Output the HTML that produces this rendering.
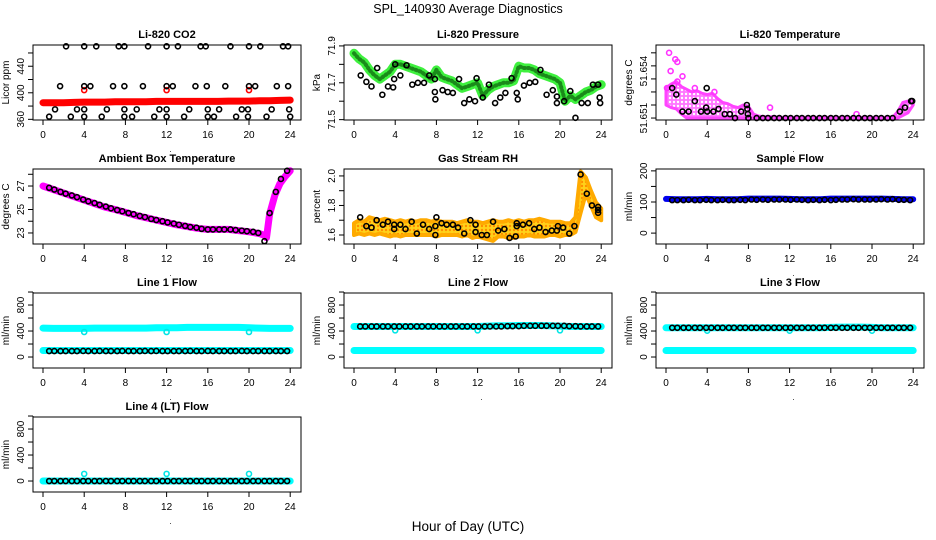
<!DOCTYPE html>
<html><head><meta charset="utf-8"><title>SPL_140930 Average Diagnostics</title>
<style>
html,body{margin:0;padding:0;background:#fff;}
svg{display:block;font-family:"Liberation Sans",Arial,sans-serif;}
</style></head>
<body>
<svg id="chart" width="936" height="540" viewBox="0 0 936 540">
<defs>
<pattern id="rhpat" width="4" height="4" patternUnits="userSpaceOnUse"><rect width="4" height="4" fill="#ffd21a"/><circle cx="2" cy="2" r="1.2" fill="#ff8c00"/></pattern>
<pattern id="magpat" width="4" height="4" patternUnits="userSpaceOnUse"><rect width="4" height="4" fill="#ff77ff"/><circle cx="2" cy="2" r="1.2" fill="#ffffff"/></pattern>
</defs>
<text x="468" y="13" text-anchor="middle" font-size="12.5">SPL_140930  Average Diagnostics</text>
<text x="468" y="531" text-anchor="middle" font-size="13.5">Hour of Day (UTC)</text>
</svg>
<script>
// ---- shared ----
const xTicks = [0,4,8,12,16,20,24];
const blackTimes = [0.6,1.1,1.7,2.2,2.8,3.3,3.9,4.4,5.0,5.5,6.1,6.6,7.2,7.7,8.3,8.8,9.4,9.9,10.5,11.0,11.6,12.1,12.7,13.2,13.8,14.3,14.9,15.4,16.0,16.5,17.1,17.6,18.2,18.7,19.3,19.8,20.4,20.9,21.5,22.0,22.6,23.1,23.7];
const hourTimes = [0,1,2,3,4,5,6,7,8,9,10,11,12,13,14,15,16,17,18,19,20,21,22,23,24];
const halfTimes = [0,0.5,1,1.5,2,2.5,3,3.5,4,4.5,5,5.5,6,6.5,7,7.5,8,8.5,9,9.5,10,10.5,11,11.5,12,12.5,13,13.5,14,14.5,15,15.5,16,16.5,17,17.5,18,18.5,19,19.5,20,20.5,21,21.5,22,22.5,23,23.5,24];

// ---- CO2 ----
const co2Red = [385,385,385,385.5,386,386,386,386.5,386.5,386.5,386.5,387,387,387,387,387,387,387,387.5,387.5,387.5,388,388,388.5,389];
const co2RedCircT = [4,12,20];
const co2RedCircV = [404,404,404];
const co2BlkT = [2.24,4.0,5.17,7.35,7.9,10.2,12.0,13.1,15.3,15.8,18.2,20.0,21.1,23.3,23.8, 1.66,4.0,4.6,6.8,7.9,9.7,12.0,12.6,14.8,15.9,17.7,20.0,20.6,22.7,23.8, 1.17,3.3,4.0,6.2,7.9,9.1,11.3,12.0,14.2,16.0,17.1,19.3,19.9,22.2,23.9, 0.6,2.7,4.0,5.7,7.9,8.65,10.8,12.0,13.7,16.0,16.6,18.75,19.9,21.7,24.0];
const co2BlkV = [470,470,470,470,470,470,470,470,470,470,470,470,470,470,470, 410,410,410,410,410,410,410,410,410,410,410,410,410,410,410, 375,375,375,375,375,375,375,375,375,375,375,375,375,375,375, 364,364,364,364,364,364,364,364,364,364,364,364,364,364,364];

// ---- Pressure ----
const presGreen = [71.86,71.83,71.81,71.77,71.74,71.72,71.74,71.76,71.80,71.80,71.79,71.78,71.77,71.76,71.74,71.72,71.77,71.73,71.72,71.71,71.69,71.67,71.68,71.69,71.70,71.63,71.66,71.68,71.69,71.70,71.70,71.71,71.79,71.78,71.78,71.77,71.75,71.74,71.73,71.72,71.70,71.60,71.63,71.61,71.63,71.65,71.66,71.68,71.69];
const presBlkT = [0.65,1.2,1.7,2.25,2.75,3.3,3.8,3.9,4.0,4.5,5.1,5.66,6.2,6.8,7.3,7.85,7.85,7.9,8.6,9.1,9.6,10.2,10.7,11.2,11.75,11.9,12.5,13.1,13.7,14.2,14.7,15.3,15.8,15.9,16.5,17.05,17.6,18.1,18.7,19.3,19.7,19.7,20.4,21.0,21.5,22.1,22.7,23.2,23.7,23.85,23.9];
const presBlkV = [71.74,71.705,71.68,71.78,71.635,71.68,71.675,71.72,71.80,71.74,71.795,71.69,71.70,71.70,71.74,71.72,71.65,71.61,71.66,71.65,71.645,71.72,71.59,71.61,71.60,71.725,71.62,71.69,71.59,71.62,71.645,71.725,71.645,71.61,71.685,71.70,71.705,71.77,71.635,71.66,71.625,71.59,71.60,71.655,71.51,71.59,71.59,71.69,71.69,71.62,71.59];

// ---- Li-820 Temperature (offset units above 51.651) ----
const tempTickVals = [0,1,2,3,4,5];
const tempMagHi = [2.3,2.6,2.8,2.4,2.2,2.0,2.1,1.9,1.8,1.9,1.5,1.2,1.1,0.9,0.8,1.0,0.9,0.3,0.15,0.1,0.1,0.1,0.05,0.05,0.05,0.05,0.05,0.05,0.05,0.05,0.05,0.05,0.05,0.05,0.05,0.05,0.05,0.05,0.05,0.05,0.05,0.05,0.05,0.05,0.05,0.5,1.2,1.3,1.3];
const tempMagLo = [1.0,0.8,0.7,0.3,0,0,0,0,0,0,0,0,0,0,0,0,0,0,0,0,0,0,0,0,0,0,0,0,0,0,0,0,0,0,0,0,0,0,0,0,0,0,0,0,0,0,0.2,0.4,1.0];
const tempSpikeT = [0.3,0.9,1.1,0.45,1.6,1.1,0.1,10.1,18.5,0.8,2.8,4.7];
const tempSpikeV = [5.0,4.5,4.3,3.6,3.2,2.8,2.3,0.8,0.3,2.5,2.3,2.0];
const tempBlkT = [0.6,1.0,1.6,2.2,2.8,3.4,3.9,3.95,4.0,4.6,5.1,5.7,6.2,6.7,7.3,7.85,7.9,7.95,8.0,8.8,9.4,9.9,10.5,11.0,11.6,12.1,12.7,13.2,13.8,14.3,14.9,15.4,16.0,16.5,17.1,17.6,18.2,18.7,19.3,19.8,20.4,20.9,21.5,22.0,22.7,23.2,23.8,23.9];
const tempBlkV = [2.3,1.8,0.5,0.5,1.3,0.5,0.8,2.3,0.5,0.5,0.7,0.3,0.3,0,0.5,1.0,0.7,0.3,0,0,0,0,0,0,0,0,0,0,0,0,0,0,0,0,0,0,0,0,0,0,0,0,0,0,0.5,0.8,1.3,1.3];

// ---- Ambient Box Temperature ----
const ambTimes = [0,1,2,3,4,5,6,7,8,9,10,11,12,13,14,15,16,17,18,19,20,21,21.5,21.7,22,22.5,23,23.5,24];
const ambVals = [27.0,26.7,26.4,26.1,25.8,25.5,25.2,25.0,24.75,24.5,24.3,24.1,23.9,23.7,23.55,23.4,23.3,23.3,23.3,23.2,23.1,22.95,22.8,22.6,24.6,26.2,27.2,27.8,28.3];
const ambBlk = [26.85,26.7,26.5,26.35,26.2,26.05,25.85,25.7,25.55,25.4,25.25,25.1,24.95,24.85,24.7,24.6,24.45,24.35,24.2,24.1,24.0,23.9,23.8,23.7,23.6,23.5,23.45,23.35,23.3,23.3,23.3,23.3,23.3,23.25,23.2,23.15,23.1,23.0,22.3,24.7,26.5,27.6,28.3];

// ---- Gas Stream RH ----
const rhHi = [1.68,1.70,1.69,1.72,1.71,1.70,1.71,1.70,1.69,1.70,1.69,1.70,1.69,1.70,1.70,1.69,1.70,1.69,1.69,1.69,1.68,1.69,1.70,1.69,1.69,1.68,1.69,1.70,1.69,1.69,1.70,1.69,1.70,1.69,1.70,1.70,1.71,1.70,1.69,1.69,1.69,1.68,1.68,1.72,2.03,1.99,1.90,1.82,1.78];
const rhLo = [1.60,1.61,1.60,1.61,1.60,1.61,1.60,1.59,1.60,1.59,1.60,1.60,1.60,1.60,1.60,1.60,1.59,1.60,1.60,1.60,1.60,1.59,1.60,1.58,1.59,1.58,1.57,1.56,1.59,1.59,1.58,1.58,1.59,1.59,1.60,1.59,1.59,1.59,1.60,1.60,1.59,1.60,1.60,1.62,1.75,1.88,1.80,1.72,1.70];
const rhBlkT = [0.6,1.2,1.7,2.2,2.8,3.3,3.9,3.9,4.5,5.0,5.6,6.1,6.7,7.3,7.9,7.9,8.0,8.5,9.0,9.6,10.1,10.7,11.3,11.8,11.8,12.4,12.9,13.5,14.0,14.6,15.1,15.7,15.8,15.8,16.4,17.0,17.5,18.0,18.6,19.2,19.7,19.8,20.3,20.9,21.4,22.0,22.6,23.1,23.7,23.7,23.7];
const rhBlkV = [1.72,1.66,1.65,1.70,1.67,1.69,1.64,1.67,1.67,1.64,1.69,1.61,1.67,1.64,1.66,1.60,1.72,1.68,1.67,1.67,1.65,1.61,1.70,1.67,1.62,1.60,1.60,1.69,1.63,1.64,1.58,1.59,1.66,1.68,1.67,1.68,1.64,1.65,1.62,1.63,1.63,1.66,1.65,1.61,1.66,2.01,1.88,1.80,1.75,1.77,1.79];

// ---- Sample Flow ----
const sampBlue = [110,109,109,109,110,109,109,109,111,111,111,111,110,109,109,109,111,111,111,111,111,111,110,109,109];
const sampBlk = [106,106,106,107,106,106,107,106,106,107,106,106,107,106,108,107,108,107,108,108,108,107,108,107,106,107,106,107,106,107,108,108,109,108,108,108,108,109,108,109,107,107,106];

// ---- Line flows ----
const dipTimes = [4,12,20];
const l1CyanHi = [445,440,440,440,440,445,445,445,445,445,445,450,450,450,455,455,455,455,455,455,450,445,440,440,440];
const l1CyanLo = [100,100,100,100,100,100,100,100,100,100,100,100,100,100,100,100,100,100,100,100,100,100,100,100,100];
const l1Dip = [385,385,385];
const l1Blk = [92,92,92,92,92,92,93,92,92,93,92,92,92,93,92,92,92,93,92,93,92,92,92,92,92,93,92,92,93,92,92,92,92,92,93,92,92,92,92,92,92,92,92];
const l2CyanHi = [470,470,470,470,470,470,470,470,470,470,470,470,470,475,480,480,485,485,485,480,475,470,470,470,470];
const l2CyanLo = [100,100,100,100,100,100,100,100,100,100,100,100,100,100,100,100,100,100,100,100,100,100,100,100,100];
const l2Dip = [410,410,410];
const l2Blk = [470,470,470,470,470,470,470,470,470,470,470,470,470,470,470,470,470,470,470,470,470,470,470,470,470,470,475,475,475,480,480,480,480,480,480,480,480,475,475,470,470,470,470];
const l3CyanHi = [450,450,450,450,450,450,450,450,450,450,450,450,450,450,450,450,455,460,460,460,455,450,450,450,450];
const l3CyanLo = [100,100,100,100,100,100,100,100,100,100,100,100,100,100,100,100,100,100,100,100,100,100,100,100,100];
const l3Dip = [405,405,405];
const l3Blk = [450,450,450,450,450,450,450,450,450,450,450,450,450,450,450,450,450,450,450,450,450,450,450,450,450,450,450,450,450,450,450,450,450,450,450,450,450,450,450,450,450,450,450];
const l4Cyan = [0,0,0,0,0,0,0,0,0,0,0,0,0,0,0,0,0,0,0,0,0,0,0,0,0];
const l4Dip = [110,110,110];
const l4Blk = [0,0,0,0,0,0,0,0,0,0,0,0,0,0,0,0,0,0,0,0,0,0,0,0,0,0,0,0,0,0,0,0,0,0,0,0,0,0,0,0,0,0,0];

const flowTicks = [0,200,400,600,800,1000];
const flowLabels = ['0','','400','','800',''];

// ---- layout ----
const svg = document.getElementById('chart');
const NS = 'http://www.w3.org/2000/svg';
const colL = [33, 344, 656];
const rowT = [45, 169, 293, 417];
const BW = 268, BH = 75;

function mk(tag, attrs, parent){
  const e = document.createElementNS(NS, tag);
  for (const k in attrs) e.setAttribute(k, attrs[k]);
  (parent||svg).appendChild(e);
  return e;
}

function makePanel(col, row, ylim, title, ylab, yTicks, yLabels, slug){
  const L = colL[col], T = rowT[row];
  const g = mk('g', {});
  
  
  const X = t => L + 10 + t * 10.3;
  const Y = v => T + BH - (v - ylim[0]) / (ylim[1] - ylim[0]) * BH;
  const tt = mk('text', {x: L + BW/2, y: T - 7, 'text-anchor': 'middle', 'font-size': 11, 'font-weight': 'bold'}, g);
  tt.textContent = title;
  
  
  const yl = mk('text', {x: 0, y: 0, 'text-anchor': 'middle', 'font-size': 10, transform: `translate(${L-24},${T+BH/2}) rotate(-90)`}, g);
  yl.textContent = ylab;
  
  
  const plot = mk('g', {}, g);
  
  
  const box = mk('rect', {x: L, y: T, width: BW, height: BH, fill: 'none', stroke: '#000', 'stroke-width': 1}, g);
  
  
  const xa = mk('g', {}, g);
  
  
  mk('line', {x1: X(xTicks[0]), x2: X(xTicks[xTicks.length-1]), y1: T+BH, y2: T+BH, stroke: '#000'}, xa);
  xTicks.forEach(t => {
    mk('line', {x1: X(t), x2: X(t), y1: T+BH, y2: T+BH+5, stroke: '#000'}, xa);
    const lb = mk('text', {x: X(t), y: T+BH+18, 'text-anchor': 'middle', 'font-size': 10}, xa);
    lb.textContent = String(t);
    
    
  });
  const dot = mk('text', {x: X(12)+4, y: T+BH+32, 'text-anchor': 'middle', 'font-size': 8}, xa);
  dot.textContent = '.';
  const ya = mk('g', {}, g);
  
  
  mk('line', {x1: L, x2: L, y1: Y(yTicks[0]), y2: Y(yTicks[yTicks.length-1]), stroke: '#000'}, ya);
  yTicks.forEach((v, i) => {
    mk('line', {x1: L-5, x2: L, y1: Y(v), y2: Y(v), stroke: '#000'}, ya);
    if (yLabels[i]) {
      const lb = mk('text', {x: 0, y: 0, 'text-anchor': 'middle', 'font-size': 10, transform: `translate(${L-9},${Y(v)}) rotate(-90)`}, ya);
      lb.textContent = yLabels[i];
      
      
    }
  });
  return {X, Y, plot};
}

function circles(p, ts, vs, color, name, r, sw){
  const g = mk('g', {}, p.plot);
  
  
  ts.forEach((t, i) => {
    const c = mk('circle', {cx: p.X(t), cy: p.Y(vs[i]), r: r||2.5, fill: 'none', stroke: color, 'stroke-width': sw||1.6}, g);
    
    
  });
}
function line(p, ts, vs, color, name, w, extra){
  const pts = ts.map((t, i) => p.X(t).toFixed(1) + ',' + p.Y(vs[i]).toFixed(1)).join(' ');
  const e = mk('polyline', Object.assign({points: pts, fill: 'none', stroke: color, 'stroke-width': w, 'stroke-linejoin': 'round', 'stroke-linecap': 'round'}, extra||{}), p.plot);
  
  
  return e;
}
function band(p, ts, hi, lo, fill, name, stroke, sw){
  const up = ts.map((t, i) => p.X(t).toFixed(1) + ',' + p.Y(hi[i]).toFixed(1));
  const dn = ts.map((t, i) => p.X(t).toFixed(1) + ',' + p.Y(lo[i]).toFixed(1)).reverse();
  const e = mk('polygon', {points: up.concat(dn).join(' '), fill: fill, stroke: stroke, 'stroke-width': sw||4, 'stroke-linejoin': 'round'}, p.plot);
  
  
}

// Panel 1: CO2
let p = makePanel(0, 0, [359, 472], 'Li-820 CO2', 'Licor ppm', [360,380,400,420,440,460], ['360','','400','','440',''], 'co2');
line(p, hourTimes, co2Red, '#ff0000', 'co2-red-series', 7);
circles(p, co2RedCircT, co2RedCircV, '#ff0000', 'co2-red-outliers');
circles(p, co2BlkT, co2BlkV, '#000', 'co2-black-series');

// Panel 2: Pressure
p = makePanel(1, 0, [71.498, 71.905], 'Li-820 Pressure', 'kPa', [71.5,71.6,71.7,71.8,71.9], ['71.5','','71.7','','71.9'], 'pressure');
line(p, halfTimes, presGreen, '#3ef03e', 'pressure-green-series', 9);
line(p, halfTimes, presGreen, '#1a8a1a', 'pressure-green-texture', 4, {'stroke-dasharray': '1 3'});
circles(p, presBlkT, presBlkV, '#000', 'pressure-black-series');

// Panel 3: Li-820 Temperature
p = makePanel(2, 0, [-0.15, 5.6], 'Li-820 Temperature', 'degrees C', tempTickVals, ['51.651','','','','',''], 'li820-temp');
const extraLab = mk('text', {x: 0, y: 0, 'text-anchor': 'middle', 'font-size': 10, transform: `translate(${colL[2]-9},${p.Y(3.6)}) rotate(-90)`}, svg);
extraLab.textContent = '51.654';


band(p, halfTimes, tempMagHi, tempMagLo, 'url(#magpat)', 'li820-temp-magenta-band', '#ff44ff', 3);
circles(p, tempSpikeT, tempSpikeV, '#ff33ff', 'li820-temp-magenta-spikes');
circles(p, tempBlkT, tempBlkV, '#000', 'li820-temp-black-series');

// Panel 4: Ambient
p = makePanel(0, 1, [22.06, 28.45], 'Ambient Box Temperature', 'degrees C', [23,24,25,26,27,28], ['23','','25','','27',''], 'ambient');
line(p, ambTimes, ambVals, '#ff00ff', 'ambient-magenta-series', 7);
circles(p, blackTimes, ambBlk, '#000', 'ambient-black-series');

// Panel 5: RH
p = makePanel(1, 1, [1.539, 2.047], 'Gas Stream RH', 'percent', [1.6,1.7,1.8,1.9,2.0], ['1.6','','1.8','','2.0'], 'rh');
band(p, halfTimes, rhHi, rhLo, 'url(#rhpat)', 'rh-orange-band', '#ffaa00');
circles(p, rhBlkT, rhBlkV, '#000', 'rh-black-series');

// Panel 6: Sample Flow
p = makePanel(2, 1, [-35, 206], 'Sample Flow', 'ml/min', [0,50,100,150,200], ['0','','100','','200'], 'sample-flow');
line(p, hourTimes, sampBlue, '#0000ee', 'sample-flow-blue-series', 6);
circles(p, blackTimes, sampBlk, '#000', 'sample-flow-black-series');

// Line flows
function flowPanel(col, row, title, slug, hi, lo, dip, blk){
  const q = makePanel(col, row, [-169, 985], title, 'ml/min', flowTicks, flowLabels, slug);
  if (hi) line(q, hourTimes, hi, '#00ffff', slug + '-cyan-high', 7);
  line(q, hourTimes, lo, '#00ffff', slug + '-cyan-low', 7);
  circles(q, dipTimes, dip, '#00e5e5', slug + '-cyan-dips');
  circles(q, blackTimes, blk, '#000', slug + '-black-series');
}
flowPanel(0, 2, 'Line 1 Flow', 'line1-flow', l1CyanHi, l1CyanLo, l1Dip, l1Blk);
flowPanel(1, 2, 'Line 2 Flow', 'line2-flow', l2CyanHi, l2CyanLo, l2Dip, l2Blk);
flowPanel(2, 2, 'Line 3 Flow', 'line3-flow', l3CyanHi, l3CyanLo, l3Dip, l3Blk);
flowPanel(0, 3, 'Line 4 (LT) Flow', 'line4-flow', null, l4Cyan, l4Dip, l4Blk);
</script>
</body></html>
